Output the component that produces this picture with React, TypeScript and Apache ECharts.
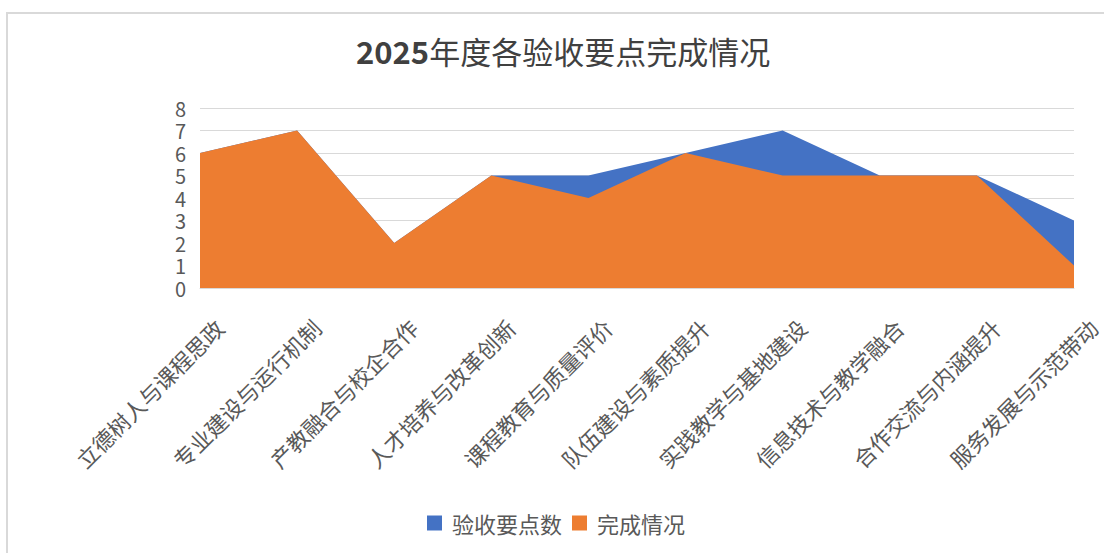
import React, { useEffect, useRef } from "react";
import * as echarts from "echarts";

const categories = [
  "立德树人与课程思政",
  "专业建设与运行机制",
  "产教融合与校企合作",
  "人才培养与改革创新",
  "课程教育与质量评价",
  "队伍建设与素质提升",
  "实践教学与基地建设",
  "信息技术与教学融合",
  "合作交流与内涵提升",
  "服务发展与示范带动",
];
const checkpoints = [6, 7, 2, 5, 5, 6, 7, 5, 5, 3];
const completed = [6, 7, 2, 5, 4, 6, 5, 5, 5, 1];
const seriesNames = ["验收要点数", "完成情况"];
const titleYear = "2025";
const titleRest = "年度各验收要点完成情况";

const FONT = '"Noto Sans CJK SC", "Noto Sans", sans-serif';

export default function App() {
  const ref = useRef<HTMLDivElement>(null);
  useEffect(() => {
    if (!ref.current) return;
    const chart = echarts.init(ref.current, null, { renderer: "svg" });
    chart.setOption({
      animation: false,
      backgroundColor: "#ffffff",
      textStyle: { fontFamily: FONT },
      title: {
        text: `{a|${titleYear}}{b|${titleRest}}`,
        left: 351,
        top: 30,
        textStyle: {
          rich: {
            a: { fontSize: 31, fontWeight: "bold", color: "#404040", fontFamily: FONT },
            b: { fontSize: 31, fontWeight: "normal", color: "#404040", fontFamily: FONT },
          },
        },
      },
      legend: {
        bottom: 14,
        left: 422,
        itemWidth: 15,
        itemHeight: 15,
        itemGap: 10,
        icon: "rect",
        textStyle: { fontSize: 22, color: "#595959", fontFamily: FONT, padding: [0, 0, 0, 5] },
        data: seriesNames,
      },
      graphic: [
        {
          type: "polyline",
          shape: { points: [[7, 553], [7, 13], [1104, 13]] },
          style: { stroke: "#d9d9d9", lineWidth: 2, fill: "none" },
          silent: true,
        },
      ],
      grid: { left: 200, right: 30, top: 108, bottom: 265, containLabel: false, outerBoundsMode: "none" },
      xAxis: {
        type: "category",
        boundaryGap: false,
        data: categories,
        axisLine: { show: true, lineStyle: { color: "#d9d9d9", width: 1 } },
        axisTick: { show: false },
        axisLabel: {
          rotate: 45,
          interval: 0,
          fontSize: 22,
          lineHeight: 54,
          verticalAlign: "top",
          color: "#595959",
          margin: 16,
          fontFamily: FONT,
        },
      },
      yAxis: {
        type: "value",
        min: 0,
        max: 8,
        interval: 1,
        axisLine: { show: false },
        axisTick: { show: false },
        splitLine: { lineStyle: { color: "#d9d9d9", width: 1 } },
        axisLabel: { fontSize: 20, lineHeight: 20, color: "#595959", margin: 14, fontFamily: FONT },
      },
      series: [
        {
          name: seriesNames[0],
          type: "line",
          data: checkpoints,
          symbol: "none",
          lineStyle: { width: 0 },
          areaStyle: { color: "#4472C4", opacity: 1 },
          itemStyle: { color: "#4472C4" },
        },
        {
          name: seriesNames[1],
          type: "line",
          data: completed,
          symbol: "none",
          lineStyle: { width: 0 },
          areaStyle: { color: "#ED7D31", opacity: 1 },
          itemStyle: { color: "#ED7D31" },
        },
      ],
    });
    return () => chart.dispose();
  }, []);
  return (
    <div
      ref={ref}
      style={{ position: "fixed", left: 0, top: 0, width: 1104, height: 553 }}
    />
  );
}
